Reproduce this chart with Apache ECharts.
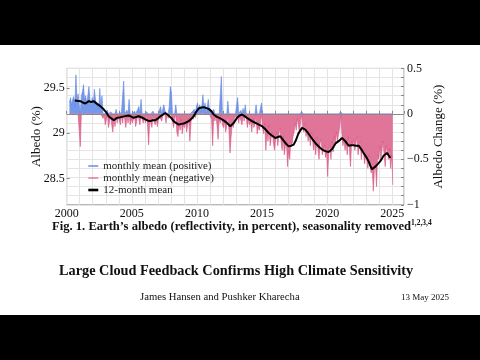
<!DOCTYPE html>
<html><head><meta charset="utf-8">
<script src="https://cdn.jsdelivr.net/npm/echarts@6/dist/echarts.min.js"></script>
<style>html,body{margin:0;padding:0;background:#fff}#c{width:480px;height:360px}</style>
</head><body><div id="c"></div>
<script>
// ---- data ----
const xLabelYears = [2000, 2005, 2010, 2015, 2020, 2025];
const leftTickLabels = [28.5, 29, 29.5];
const rightTickLabels = [-1, -0.5, 0, 0.5];
const seriesNames = ['monthly mean (positive)', 'monthly mean (negative)', '12-month mean'];
const firstYear = 2000, firstMonth = 3; // March 2000
const monthlyAnomaly = [
  // 2000 Mar-Dec
  0.12, 0.18, 0.10, 0.16, 0.19, 0.08, 0.43, 0.14, 0.22, 0.10,
  // 2001
  -0.36, 0.20, 0.24, 0.32, 0.15, 0.20, 0.10, 0.12, 0.30, 0.14, 0.08, 0.18,
  // 2002
  0.10, 0.27, 0.16, 0.08, 0.12, 0.05, 0.28, 0.06, 0.20, -0.05, 0.02, -0.12,
  // 2003
  -0.10, 0.04, -0.15, -0.08, 0.02, -0.12, -0.20, -0.05, -0.14, 0.05, -0.10, -0.02,
  // 2004
  -0.08, -0.12, 0.02, -0.10, 0.36, -0.06, -0.15, 0.04, -0.10, 0.16, -0.12, -0.05,
  // 2005
  -0.10, -0.06, 0.03, -0.14, -0.08, 0.05, 0.08, -0.12, 0.16, -0.05, -0.10, -0.03,
  // 2006
  -0.10, 0.02, -0.12, -0.34, -0.06, -0.10, -0.15, 0.03, -0.08, -0.12, -0.05, -0.14,
  // 2007
  -0.06, -0.02, 0.08, -0.08, -0.02, 0.10, 0.04, -0.10, 0.02, -0.05, 0.08, 0.30,
  // 2008
  0.23, -0.08, -0.15, -0.05, 0.10, -0.20, -0.25, -0.10, -0.18, -0.06, -0.22, -0.12,
  // 2009
  -0.15, -0.08, -0.20, -0.12, -0.05, -0.30, -0.10, 0.02, -0.06, 0.05, -0.04, 0.08,
  // 2010
  0.12, 0.05, 0.10, 0.02, 0.08, 0.21, 0.06, 0.12, -0.02, 0.08, 0.16, 0.04,
  // 2011
  0.02, -0.06, -0.35, 0.05, -0.08, -0.02, -0.12, -0.28, -0.05, -0.10, 0.41, -0.12,
  // 2012
  -0.15, -0.08, -0.20, -0.12, 0.14, -0.18, -0.43, -0.25, -0.10, -0.15, -0.05, -0.02,
  // 2013
  -0.05, 0.18, -0.10, -0.02, 0.04, -0.12, 0.06, -0.08, 0.10, -0.04, -0.15, -0.06,
  // 2014
  -0.12, -0.08, -0.20, -0.05, -0.15, -0.10, 0.10, -0.22, -0.14, -0.18, -0.10, 0.12,
  // 2015
  -0.15, -0.22, -0.10, -0.40, -0.18, -0.30, -0.12, -0.35, -0.25, -0.20, -0.32, -0.40,
  // 2016
  -0.28, -0.20, -0.35, -0.22, -0.15, -0.30, -0.40, -0.25, -0.45, -0.35, -0.30, -0.58,
  // 2017
  -0.40, -0.50, -0.30, -0.35, -0.25, -0.20, -0.10, -0.18, -0.05, -0.12, -0.22, -0.08,
  // 2018
  0.02, -0.15, -0.20, -0.10, -0.25, -0.18, -0.30, -0.22, -0.35, -0.20, -0.28, -0.40,
  // 2019
  -0.30, -0.45, -0.25, -0.38, -0.50, -0.32, -0.28, -0.45, -0.40, -0.35, -0.48, -0.42,
  // 2020
  -0.69, -0.40, -0.35, -0.50, -0.30, -0.42, -0.25, -0.35, -0.20, -0.30, -0.22, -0.15,
  // 2021
  0.02, -0.20, -0.35, -0.28, -0.40, -0.30, -0.45, -0.25, -0.38, -0.58, -0.30, -0.35,
  // 2022
  -0.28, -0.40, -0.32, -0.25, -0.45, -0.35, -0.30, -0.50, -0.38, -0.42, -0.55, -0.45,
  // 2023
  -0.50, -0.60, -0.45, -0.55, -0.65, -0.58, -0.85, -0.62, -0.55, -0.80, -0.45, -0.50,
  // 2024
  -0.35, -0.50, -0.40, -0.30, -0.45, -0.58, -0.35, -0.42, -0.50, -0.38, -0.60, -0.45,
  // 2025 Jan
  -0.78
];
const meanYears = [
  2000.61, 2001.05, 2001.23, 2001.43, 2001.69, 2001.89, 2002.07, 2002.20, 2002.33, 2002.58,
  2002.84, 2003.02, 2003.22, 2003.43, 2003.61, 2003.74, 2003.86, 2004.04, 2004.25, 2004.50,
  2004.76, 2004.96, 2005.14, 2005.32, 2005.53, 2005.78, 2006.04, 2006.24, 2006.42, 2006.60,
  2006.81, 2007.01, 2007.19, 2007.37, 2007.57, 2007.70, 2007.83, 2008.03, 2008.21, 2008.39,
  2008.60, 2008.80, 2008.98, 2009.16, 2009.37, 2009.57, 2009.75, 2009.93, 2010.13, 2010.34,
  2010.52, 2010.70, 2010.90, 2011.11, 2011.28, 2011.54, 2011.72, 2011.92, 2012.13, 2012.31,
  2012.56, 2012.69, 2012.82, 2013.08, 2013.25, 2013.46, 2013.66, 2013.84, 2014.02, 2014.23,
  2014.43, 2014.61, 2014.79, 2015.00, 2015.26, 2015.51, 2015.77, 2016.02, 2016.22, 2016.40,
  2016.58, 2016.79, 2017.04, 2017.25, 2017.43, 2017.60, 2017.81, 2018.07, 2018.19, 2018.32,
  2018.53, 2018.71, 2018.88, 2019.09, 2019.29, 2019.47, 2019.65, 2019.86, 2020.11, 2020.37,
  2020.50, 2020.62, 2020.88, 2021.14, 2021.26, 2021.39, 2021.65, 2021.85, 2022.03, 2022.21,
  2022.42, 2022.62, 2022.80, 2022.98, 2023.18, 2023.31, 2023.44, 2023.57, 2023.70, 2023.90,
  2024.08, 2024.21, 2024.33, 2024.46, 2024.59, 2024.72, 2024.85
];
const meanValues = [
  0.147, 0.140, 0.125, 0.114, 0.140, 0.130, 0.140, 0.125, 0.110, 0.085,
  0.050, 0.020, -0.026, -0.050, -0.070, -0.060, -0.044, -0.040, -0.033, -0.025,
  -0.018, -0.030, -0.044, -0.035, -0.026, -0.040, -0.060, -0.075, -0.080, -0.070,
  -0.070, -0.050, -0.026, -0.010, 0.010, 0.000, -0.018, -0.045, -0.080, -0.100,
  -0.118, -0.110, -0.107, -0.095, -0.080, -0.055, -0.026, 0.020, 0.059, 0.070,
  0.074, 0.065, 0.055, 0.030, -0.007, -0.033, -0.045, -0.060, -0.080, -0.100,
  -0.136, -0.120, -0.100, -0.044, -0.020, -0.007, -0.025, -0.044, -0.060, -0.080,
  -0.095, -0.107, -0.120, -0.136, -0.170, -0.210, -0.240, -0.265, -0.255, -0.246,
  -0.280, -0.320, -0.357, -0.350, -0.338, -0.290, -0.210, -0.154, -0.160, -0.173,
  -0.210, -0.246, -0.280, -0.320, -0.350, -0.375, -0.395, -0.410, -0.420, -0.390,
  -0.360, -0.327, -0.300, -0.265, -0.280, -0.300, -0.350, -0.345, -0.345, -0.350,
  -0.350, -0.390, -0.430, -0.470, -0.520, -0.570, -0.610, -0.600, -0.580, -0.550,
  -0.520, -0.490, -0.460, -0.440, -0.430, -0.455, -0.485
];

// ---- build series data ----
const monthTime = i => firstYear + (firstMonth - 1 + i + 0.5) / 12;
const posData = monthlyAnomaly.map((v, i) => [monthTime(i), v > 0 ? v : 0]);
const negData = monthlyAnomaly.map((v, i) => [monthTime(i), v < 0 ? v : 0]);
const meanData = meanYears.map((y, i) => [y, meanValues[i]]);

const SERIF = 'Liberation Serif';
const BLUE_LINE = '#5f86e2', BLUE_FILL = '#7598ea';
const PINK_LINE = '#d65283', PINK_FILL = '#e07499';
const HIDDEN_SYMBOL = {color: 'rgba(0,0,0,0)', borderWidth: 0, opacity: 0};

const chart = echarts.init(document.getElementById('c'), null, {renderer: 'canvas'});
const minusFmt = v => (v < 0 ? '\u2212' + Math.abs(v) : String(v));

chart.setOption({
  backgroundColor: '#fff',
  animation: false,
  grid: {left: 66.7, right: 76, top: 68.4, bottom: 155.2, show: true, borderColor: '#9a9a9a', borderWidth: 1, backgroundColor: 'transparent'},
  legend: {
    left: 87, top: 160.5, orient: 'vertical', padding: 0, itemGap: 1, itemWidth: 10, itemHeight: 11,
    textStyle: {fontFamily: SERIF, fontSize: 11, color: '#222'},
    data: [
      {name: seriesNames[0], lineStyle: {width: 1.4, color: BLUE_LINE}, itemStyle: HIDDEN_SYMBOL},
      {name: seriesNames[1], lineStyle: {width: 1.4, color: PINK_FILL}, itemStyle: HIDDEN_SYMBOL},
      {name: seriesNames[2], lineStyle: {width: 2.6, color: '#000'}, itemStyle: HIDDEN_SYMBOL}
    ]
  },
  xAxis: {
    type: 'value', min: 2000, max: 2025.9, interval: 1,
    axisLine: {show: false},
    axisTick: {show: true, inside: true, length: 3, lineStyle: {color: '#888'}},
    axisLabel: {margin: 3, fontFamily: SERIF, fontSize: 12, color: '#111',
      formatter: v => (xLabelYears.indexOf(v) >= 0 ? String(v) : '')},
    splitLine: {show: true, lineStyle: {color: '#e4e4e4', width: 1}}
  },
  yAxis: [
    {
      type: 'value', position: 'left', min: 28.213, max: 29.713,
      name: 'Albedo (%)', nameLocation: 'middle', nameGap: 24, nameMoveOverlap: false,
      nameTextStyle: {fontFamily: SERIF, fontSize: 13, color: '#111'},
      axisLine: {show: false},
      axisTick: {show: true, inside: true, length: 3, customValues: leftTickLabels, lineStyle: {color: '#888'}},
      axisLabel: {margin: 2, fontFamily: SERIF, fontSize: 12, color: '#111', customValues: leftTickLabels, formatter: v => String(v)},
      splitLine: {show: false}
    },
    {
      type: 'value', position: 'right', min: -1, max: 0.5, interval: 0.1,
      name: 'Albedo Change (%)', nameLocation: 'middle', nameGap: 28, nameMoveOverlap: false,
      nameTextStyle: {fontFamily: SERIF, fontSize: 13, color: '#111'},
      axisLine: {show: false},
      axisTick: {show: true, inside: true, length: 3, lineStyle: {color: '#888'}},
      axisLabel: {margin: 3, fontFamily: SERIF, fontSize: 12, color: '#111',
        formatter: v => { const r = Math.round(v * 10) / 10; return rightTickLabels.indexOf(r) >= 0 ? minusFmt(r) : ''; }},
      splitLine: {show: true, lineStyle: {color: '#e4e4e4', width: 1}}
    }
  ],
  series: [
    {
      name: seriesNames[0], type: 'line', yAxisIndex: 1, data: posData,
      symbol: 'none', color: BLUE_LINE,
      lineStyle: {color: BLUE_LINE, width: 0.6},
      areaStyle: {color: BLUE_FILL, opacity: 1, origin: 0}
    },
    {
      name: seriesNames[1], type: 'line', yAxisIndex: 1, data: negData,
      symbol: 'none', color: PINK_FILL,
      lineStyle: {color: PINK_LINE, width: 0.6},
      areaStyle: {color: PINK_FILL, opacity: 1, origin: 0},
      markLine: {silent: true, symbol: 'none', label: {show: false}, z: 5,
        lineStyle: {color: '#8a8a8a', width: 1.2, type: 'solid'}, data: [{yAxis: 0}]}
    },
    {
      name: seriesNames[2], type: 'line', yAxisIndex: 1, data: meanData, z: 6,
      symbol: 'none', color: '#000',
      lineStyle: {color: '#000', width: 2}
    }
  ],
  graphic: [
    {type: 'rect', left: 0, top: 0, shape: {width: 480, height: 45}, style: {fill: '#000'}, z: 100},
    {type: 'rect', left: 0, top: 315, shape: {width: 480, height: 45}, style: {fill: '#000'}, z: 100},
    {type: 'text', left: 52, top: 219, z: 100, style: {
      text: 'Fig. 1. Earth\u2019s albedo (reflectivity, in percent), seasonality removed{sup|1,2,3,4}',
      font: 'bold 12.6px "Liberation Serif"', fill: '#111',
      rich: {sup: {fontSize: 7.5, fontWeight: 'bold', fontFamily: SERIF, fill: '#111', padding: [0, 0, 7, 0]}}
    }},
    {type: 'text', left: 59, top: 264, z: 100, style: {
      text: 'Large Cloud Feedback Confirms High Climate Sensitivity',
      font: 'bold 14.3px "Liberation Serif"', fill: '#111'
    }},
    {type: 'text', left: 140, top: 292, z: 100, style: {
      text: 'James Hansen and Pushker Kharecha',
      font: '10.7px "Liberation Serif"', fill: '#111'
    }},
    {type: 'text', right: 31, top: 293, z: 100, style: {
      text: '13 May 2025',
      font: '9px "Liberation Serif"', fill: '#111'
    }}
  ]
});
</script></body></html>
